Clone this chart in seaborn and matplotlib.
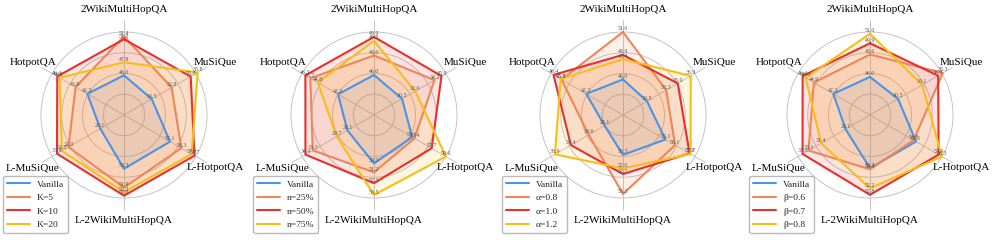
import numpy as np
import pandas as pd
import matplotlib
matplotlib.use("Agg")
import matplotlib.pyplot as plt
import seaborn as sns
from matplotlib.lines import Line2D

# ---------------- data ----------------
CATEGORIES = ["2WikiMultiHopQA", "MuSiQue", "L-HotpotQA",
              "L-2WikiMultiHopQA", "L-MuSiQue", "HotpotQA"]

VANILLA = [46.0, 30.5, 55.1, 50.3, 28.1, 42.3]

# panel 1 : K
K_LABELS = ["Vanilla", "K=5", "K=10", "K=20"]
K5 = [51.4, 32.8, 56.3, 51.9, 32.0, 43.9]
K10 = [51.0, 35.0, 57.7, 52.6, 33.4, 46.4]
K20 = [47.8, 35.8, 57.4, 52.3, 32.8, 46.1]
LO_1 = [40.5, 27.3, 50.2, 45.7, 25.2, 37.3]
HI_1 = [52.0, 35.6, 57.85, 52.8, 34.0, 47.1]

# panel 2 : n
N_LABELS = ["Vanilla", "n=25%", "n=50%", "n=75%"]
N25 = [48.0, 34.2, 55.4, 51.2, 33.3, 45.7]
N50 = [49.9, 35.0, 57.7, 52.3, 34.4, 46.3]
N75 = [49.5, 32.0, 59.6, 53.5, 29.7, 44.8]
LO_2 = [41.9, 27.3, 50.0, 45.4, 24.1, 37.9]
HI_2 = [50.4, 35.5, 59.6, 53.8, 34.9, 46.7]

# panel 3 : alpha
A_LABELS = ["Vanilla", "α=0.8", "α=1.0", "α=1.2"]
A08 = [51.6, 33.3, 56.1, 55.2, 30.6, 45.4]
A10 = [48.9, 35.0, 57.6, 52.7, 33.4, 46.4]
A12 = [48.4, 36.9, 57.7, 52.0, 35.9, 45.5]
LO_3 = [41.8, 27.0, 50.7, 45.3, 25.2, 37.7]
HI_3 = [51.6, 37.5, 58.15, 55.7, 36.5, 46.7]

# panel 4 : beta
B_LABELS = ["Vanilla", "β=0.6", "β=0.7", "β=0.8"]
B06 = [48.6, 35.3, 54.8, 50.4, 33.1, 44.9]
B07 = [49.9, 34.8, 57.9, 52.8, 33.9, 46.4]
B08 = [51.0, 33.1, 58.3, 52.2, 31.4, 46.0]
LO_4 = [41.6, 27.5, 49.4, 45.3, 24.8, 37.4]
HI_4 = [51.2, 35.2, 58.3, 53.1, 34.5, 47.0]

COLORS = ["#4a94e6", "#f08556", "#e8302c", "#f9bd17"]

PANELS = [
    (K_LABELS, [VANILLA, K5, K10, K20], LO_1, HI_1),
    (N_LABELS, [VANILLA, N25, N50, N75], LO_2, HI_2),
    (A_LABELS, [VANILLA, A08, A10, A12], LO_3, HI_3),
    (B_LABELS, [VANILLA, B06, B07, B08], LO_4, HI_4),
]

# ---------------- style ----------------
sns.set_theme(style="white")
plt.rcParams["font.family"] = ["Liberation Serif", "DejaVu Serif"]

W, H = 996, 240
fig = plt.figure(figsize=(W / 100, H / 100), dpi=100)

CENTERS_X = [124, 374, 623, 870]
CY = 115
R_UNIT = 83.0       # pixels for r = 1
RMAX = 1.15
rad_px = R_UNIT * RMAX

n = len(CATEGORIES)
angles = np.arange(n) * 2 * np.pi / n

for (labels, series, lo, hi), cx in zip(PANELS, CENTERS_X):
    ax = fig.add_axes([(cx - rad_px) / W, (H - CY - rad_px) / H,
                       2 * rad_px / W, 2 * rad_px / H], projection="polar")
    ax.set_theta_offset(np.pi / 2)
    ax.set_theta_direction(-1)
    ax.set_facecolor("white")

    lo = np.array(lo)
    hi = np.array(hi)
    for vals, color in zip(series, COLORS):
        v = np.array(vals)
        r = (v - lo) / (hi - lo)
        th = np.append(angles, angles[0] + 2 * np.pi)
        rr = np.append(r, r[0])
        df = pd.DataFrame({"theta": th, "r": rr})
        sns.lineplot(data=df, x="theta", y="r", sort=False, estimator=None,
                     color=color, lw=1.5, ax=ax, zorder=3)
        ax.fill(th, rr, color=color, alpha=0.13, lw=0, zorder=2)
        for a, val, rv in zip(angles, v, r):
            ax.annotate(f"{val:.1f}", (a, rv), xytext=(0, 3),
                        textcoords="offset pixels", ha="center", va="center",
                        fontsize=4.2, color="#555555", zorder=4)

    ax.set_xlabel("")
    ax.set_ylabel("")
    ax.set_ylim(0, RMAX)
    ax.set_xticks(angles)
    ax.set_xticklabels([])
    ax.set_yticks([0.25, 0.5, 0.75, 1.0])
    ax.set_yticklabels([])
    ax.xaxis.grid(True, color="#c4c4c4", lw=0.7)
    ax.yaxis.grid(True, color="#c4c4c4", lw=0.7)
    ax.spines["polar"].set_visible(False)

    for a, name in zip(angles, CATEGORIES):
        ax.text(a, 1.27, name, ha="center", va="center", fontsize=8,
                color="black")

    handles = [Line2D([], [], color=c, lw=1.5) for c in COLORS]
    leg = ax.legend(handles, labels, loc="lower left",
                    bbox_to_anchor=((cx - 121) / W, 7 / H),
                    bbox_transform=fig.transFigure, borderaxespad=0,
                    fontsize=6.8, handlelength=2.5, handletextpad=0.7,
                    labelspacing=0.52, borderpad=0.4, frameon=True,
                    edgecolor="#bbbbbb", framealpha=1.0)
    leg.set_zorder(10)

fig.savefig("out.png", dpi=100)
